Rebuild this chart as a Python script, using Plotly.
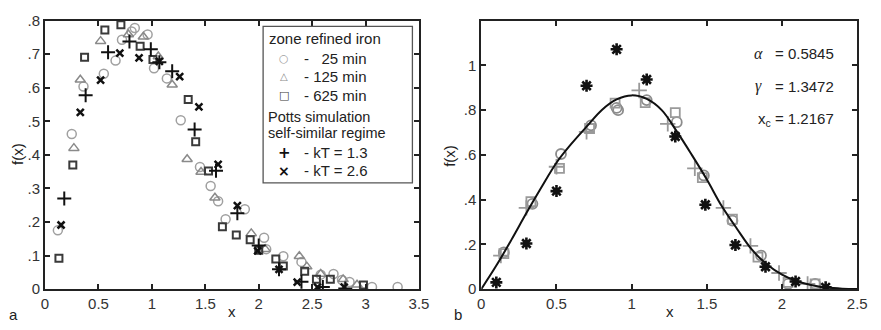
import plotly.graph_objects as go

W, H = 881, 330

# ---------------- Panel a data ----------------
c25_x = [0.12, 0.25, 0.36, 0.55, 0.66, 0.72, 0.81, 0.84, 0.96, 1.02, 1.14, 1.27, 1.45, 1.55, 1.62, 1.69, 1.87, 2.05, 2.07, 2.23, 2.40, 2.58, 2.70, 2.78, 2.85, 3.06, 3.30]
c25_y = [0.175, 0.462, 0.604, 0.642, 0.681, 0.743, 0.768, 0.778, 0.759, 0.658, 0.628, 0.503, 0.364, 0.307, 0.262, 0.208, 0.238, 0.153, 0.119, 0.098, 0.081, 0.043, 0.045, 0.027, 0.021, 0.006, 0.006]

t125_x = [0.27, 0.33, 0.52, 0.78, 0.92, 1.06, 1.19, 1.33, 1.46, 1.59, 1.93, 2.06, 2.38, 2.45, 2.58, 2.79, 2.92]
t125_y = [0.42, 0.624, 0.739, 0.759, 0.752, 0.693, 0.609, 0.387, 0.349, 0.272, 0.166, 0.119, 0.098, 0.067, 0.045, 0.029, 0.013]

s625_x = [0.13, 0.26, 0.37, 0.56, 0.71, 0.89, 1.01, 1.34, 1.41, 1.53, 1.66, 1.79, 1.92, 2.00, 2.16, 2.23, 2.43, 2.54, 2.67, 2.98]
s625_y = [0.092, 0.370, 0.691, 0.772, 0.788, 0.724, 0.684, 0.565, 0.439, 0.352, 0.186, 0.161, 0.147, 0.116, 0.090, 0.069, 0.053, 0.029, 0.029, 0.012]

p13_x = [0.18, 0.38, 0.59, 0.79, 0.99, 1.07, 1.19, 1.40, 1.60, 1.80, 2.00, 2.19, 2.40, 2.60, 2.81]
p13_y = [0.27, 0.578, 0.706, 0.738, 0.715, 0.676, 0.649, 0.476, 0.353, 0.226, 0.13, 0.059, 0.022, 0.006, 0.002]

x26_x = [0.15, 0.33, 0.52, 0.70, 0.88, 1.07, 1.26, 1.44, 1.62, 1.80, 1.99, 2.19, 2.36, 2.55, 2.80]
x26_y = [0.191, 0.527, 0.623, 0.703, 0.689, 0.679, 0.633, 0.543, 0.372, 0.249, 0.114, 0.059, 0.021, 0.006, 0.006]

a_xticks = [0, 0.5, 1, 1.5, 2, 2.5, 3, 3.5]
a_xlabels = ["0", "0.5", "1", "1.5", "2", "2.5", "3", "3.5"]
a_yticks = [0, 0.1, 0.2, 0.3, 0.4, 0.5, 0.6, 0.7, 0.8]
a_ylabels = ["0", ".1", ".2", ".3", ".4", ".5", ".6", ".7", ".8"]

# legend texts (panel a)
leg_head1 = "zone refined iron"
leg_head2 = ["Potts simulation", "self-similar regime"]
leg_labels = ["-   25 min", "- 125 min", "- 625 min", "- kT = 1.3", "- kT = 2.6"]

# ---------------- Panel b data ----------------
star_x = [0.10, 0.30, 0.50, 0.70, 0.90, 1.10, 1.29, 1.49, 1.69, 1.89, 2.09, 2.29]
star_y = [0.03, 0.204, 0.438, 0.909, 1.072, 0.937, 0.682, 0.377, 0.197, 0.10, 0.034, 0.008]

gc_x = [0.15, 0.34, 0.53, 0.73, 0.90, 0.91, 1.10, 1.30, 1.48, 1.67, 1.86, 2.04, 2.22]
gc_y = [0.164, 0.381, 0.604, 0.732, 0.81, 0.80, 0.845, 0.746, 0.508, 0.306, 0.15, 0.023, 0.023]

gs_x = [0.15, 0.33, 0.52, 0.72, 0.89, 1.09, 1.29, 1.47, 1.67, 1.84, 2.04, 2.22]
gs_y = [0.159, 0.391, 0.54, 0.718, 0.831, 0.834, 0.789, 0.498, 0.313, 0.143, 0.03, 0.023]

gp_x = [0.13, 0.30, 0.50, 0.70, 1.05, 1.24, 1.42, 1.61, 1.79, 1.98, 2.17]
gp_y = [0.15, 0.363, 0.547, 0.703, 0.888, 0.739, 0.54, 0.363, 0.193, 0.072, 0.023]

fit_x = [0, 0.1, 0.2, 0.3, 0.4, 0.5, 0.6, 0.7, 0.8, 0.9, 1.0, 1.1, 1.2, 1.3, 1.4, 1.5, 1.6, 1.7, 1.8, 1.9, 2.0, 2.1, 2.2, 2.3, 2.4, 2.5]
fit_y = [0, 0.105, 0.22, 0.34, 0.455, 0.565, 0.65, 0.726, 0.80, 0.848, 0.866, 0.85, 0.80, 0.705, 0.60, 0.49, 0.37, 0.27, 0.176, 0.11, 0.065, 0.035, 0.017, 0.007, 0.002, 0.0]

b_xticks = [0, 0.5, 1, 1.5, 2, 2.5]
b_xlabels = ["0", "0.5", "1", "1.5", "2", "2.5"]
b_yticks = [0, 0.2, 0.4, 0.6, 0.8, 1.0]
b_ylabels = ["0", ".2", ".4", ".6", ".8", "1"]

param_syms = ["α", "γ"]
param_vals = ["= 0.5845", "= 1.3472"]
param_xc = "x<sub>c</sub> = 1.2167"

FONT = "Liberation Sans, Arial, sans-serif"
SERIF = "Liberation Serif, Times New Roman, serif"
TXT = "#222"

C_CIRC = "#a0a0a0"
C_TRI = "#8a8a8a"
C_SQ = "#3a3a3a"
C_BLK = "#111"

fig = go.Figure()

# Panel a traces
fig.add_trace(go.Scatter(x=c25_x, y=c25_y, mode="markers", name=leg_labels[0], showlegend=False,
                         marker=dict(symbol="circle-open", size=9, color=C_CIRC, line=dict(width=1.5)),
                         xaxis="x", yaxis="y"))
fig.add_trace(go.Scatter(x=t125_x, y=t125_y, mode="markers", name=leg_labels[1], showlegend=False,
                         marker=dict(symbol="triangle-up-open", size=9, color=C_TRI, line=dict(width=1.5)),
                         xaxis="x", yaxis="y"))
fig.add_trace(go.Scatter(x=s625_x, y=s625_y, mode="markers", name=leg_labels[2], showlegend=False,
                         marker=dict(symbol="square-open", size=7, color=C_SQ, line=dict(width=2)),
                         xaxis="x", yaxis="y"))
fig.add_trace(go.Scatter(x=p13_x, y=p13_y, mode="markers", name=leg_labels[3], showlegend=False,
                         marker=dict(symbol="cross-thin-open", size=10, color=C_BLK, line=dict(width=2, color=C_BLK)),
                         xaxis="x", yaxis="y"))
fig.add_trace(go.Scatter(x=x26_x, y=x26_y, mode="markers", name=leg_labels[4], showlegend=False,
                         marker=dict(symbol="x-thin-open", size=7, color=C_BLK, line=dict(width=2.5, color=C_BLK)),
                         xaxis="x", yaxis="y"))

# Panel b traces
fig.add_trace(go.Scatter(x=gc_x, y=gc_y, mode="markers", showlegend=False,
                         marker=dict(symbol="circle-open", size=10, color="#8c8c8c", line=dict(width=1.8)),
                         xaxis="x2", yaxis="y2"))
fig.add_trace(go.Scatter(x=gs_x, y=gs_y, mode="markers", showlegend=False,
                         marker=dict(symbol="square-open", size=9, color="#9a9a9a", line=dict(width=1.8)),
                         xaxis="x2", yaxis="y2"))
fig.add_trace(go.Scatter(x=gp_x, y=gp_y, mode="markers", showlegend=False,
                         marker=dict(symbol="cross-thin-open", size=11, color="#999", line=dict(width=1.8, color="#999")),
                         xaxis="x2", yaxis="y2"))
fig.add_trace(go.Scatter(x=fit_x, y=fit_y, mode="lines", showlegend=False,
                         line=dict(color=C_BLK, width=2, shape="spline", smoothing=1.0),
                         xaxis="x2", yaxis="y2"))
fig.add_trace(go.Scatter(x=star_x, y=star_y, mode="markers", showlegend=False,
                         marker=dict(symbol="asterisk-open", size=10, color=C_BLK, line=dict(width=2.6, color=C_BLK)),
                         xaxis="x2", yaxis="y2"))


def px2x(p):
    return p / W


def px2y(p):
    return (H - p) / H


axis_common = dict(showline=True, linecolor="#222", linewidth=2, mirror="ticks",
                   ticks="inside", ticklen=5, tickwidth=1.5, tickcolor="#222",
                   showgrid=False, zeroline=False,
                   tickfont=dict(family=FONT, size=15, color="#333"))

ydom = [px2y(295.3), px2y(12.3)]

fig.update_layout(
    width=W, height=H,
    margin=dict(l=0, r=0, t=0, b=0),
    paper_bgcolor="white", plot_bgcolor="white",
    font=dict(family=FONT, size=15, color=TXT),
    showlegend=False,
    xaxis=dict(domain=[px2x(41.7), px2x(421.7)], range=[0, 3.5], tickvals=a_xticks, ticktext=a_xlabels,
               anchor="y", **axis_common),
    yaxis=dict(domain=ydom, range=[0, 0.8], tickvals=a_yticks, ticktext=a_ylabels,
               anchor="x", **axis_common),
    xaxis2=dict(domain=[px2x(485), px2x(867)], range=[0, 2.5], tickvals=b_xticks, ticktext=b_xlabels,
                anchor="y2", **axis_common),
    yaxis2=dict(domain=ydom, range=[0, 1.2], tickvals=b_yticks, ticktext=b_ylabels,
                anchor="x2", **axis_common),
)

# Legend box (panel a)
fig.add_shape(type="rect", xref="paper", yref="paper",
              x0=px2x(263.3), x1=px2x(415), y0=px2y(183.3), y1=px2y(18.3),
              line=dict(color="#555", width=1.3), fillcolor="white", layer="above")

annots = [
    dict(text="x", x=px2x(231.7), y=px2y(319), xanchor="center"),
    dict(text="x", x=px2x(677), y=px2y(319), xanchor="center"),
    dict(text="f(x)", x=px2x(13), y=px2y(153), xanchor="center", textangle=-90),
    dict(text="f(x)", x=px2x(452), y=px2y(155), xanchor="center", textangle=-90),
    dict(text="a", x=px2x(10), y=px2y(322), xanchor="center"),
    dict(text="b", x=px2x(461.7), y=px2y(321.7), xanchor="center"),
]
for sym, val, yy in zip(param_syms, param_vals, [46.7, 81.7]):
    annots.append(dict(text="<i>" + sym + "</i>", x=px2x(767), y=px2y(yy), xanchor="center",
                       font=dict(family=SERIF, size=16, color=TXT)))
    annots.append(dict(text=val, x=px2x(845), y=px2y(yy), xanchor="right"))
annots.append(dict(text=param_xc, x=px2x(845), y=px2y(117), xanchor="right"))

# legend text
annots.append(dict(text=leg_head1, x=px2x(267.5), y=px2y(31), xanchor="left"))
annots.append(dict(text=leg_head2[0], x=px2x(266.5), y=px2y(113.6), xanchor="left",
                   font=dict(family=FONT, size=14.5, color=TXT)))
annots.append(dict(text=leg_head2[1], x=px2x(266.5), y=px2y(131.2), xanchor="left",
                   font=dict(family=FONT, size=14.5, color=TXT)))
item_y = [51.7, 71.3, 91, 151.7, 170.3]
for lab, yy in zip(leg_labels, item_y):
    annots.append(dict(text=lab, x=px2x(302.5), y=px2y(yy), xanchor="left"))

# legend key glyphs
glyphs = [("○", C_CIRC, 11, 51.7), ("△", C_TRI, 10, 71.3), ("□", C_SQ, 11, 91),
          ("<b>+</b>", C_BLK, 15, 151.7), ("<b>×</b>", C_BLK, 14, 170.3)]
for g, col, sz, yy in glyphs:
    annots.append(dict(text=g, x=px2x(285), y=px2y(yy), xanchor="center",
                       font=dict(family="DejaVu Sans", size=sz, color=col)))

for a in annots:
    a.setdefault("font", dict(family=FONT, size=15, color=TXT))
    a.update(xref="paper", yref="paper", showarrow=False, yanchor="middle")
fig.update_layout(annotations=annots)

fig.write_html("out.html")
